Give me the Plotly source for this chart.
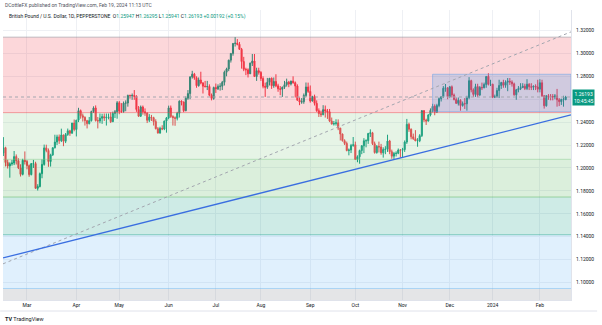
import plotly.graph_objects as go
import pandas as pd

# ---------------- text ----------------
publish_text = "DCottleFX published on TradingView.com, Feb 19, 2024 11:13 UTC"
symbol_text = "British Pound / U.S. Dollar, 1D, PEPPERSTONE"
ohlc_labels = ["O", "H", "L", "C"]
ohlc_values = ["1.25947", "1.26295", "1.25941", "1.26193"]
change_text = "+0.00192 (+0.15%)"
last_price_text = "1.26193"
countdown_text = "10:45:45"
last_price = 1.26193

# ---------------- dates (daily FX bars) ----------------
dates = pd.bdate_range("2023-02-14", "2024-02-19")
dates = dates[~dates.isin(pd.to_datetime(["2023-12-25", "2024-01-01"]))]

# ---------------- OHLC ----------------
opens = [
    # Feb 2023
    1.2130,1.2177,1.2047,1.2017,1.2036,1.2043,1.2099,1.2063,1.2001,1.1944,1.2067,
    # Mar
    1.2056,1.2020,1.1942,1.2038,1.2038,1.1822,1.1838,1.1950,1.2031,1.2175,1.2153,1.2056,1.2114,1.2176,1.2226,1.2271,1.2238,1.2288,1.2233,1.2292,1.2324,1.2303,1.2392,
    # Apr
    1.2336,1.2417,1.2500,1.2456,1.2442,1.2413,1.2387,1.2413,1.2492,1.2524,1.2414,1.2410,1.2434,1.2448,1.2437,1.2442,1.2445,1.2404,1.2476,1.2491,
    # May
    1.2569,1.2496,1.2493,1.2566,1.2567,1.2633,1.2630,1.2633,1.2625,1.2510,1.2452,1.2532,1.2491,1.2479,1.2416,1.2444,1.2439,1.2405,1.2343,1.2305,1.2346,1.2340,1.2409,
    # Jun
    1.2437,1.2524,1.2449,1.2439,1.2433,1.2478,1.2583,1.2575,1.2500,1.2609,1.2649,1.2794,1.2819,1.2788,1.2718,1.2768,1.2741,1.2714,1.2709,1.2711,1.2635,1.2607,
    # Jul
    1.2702,1.2691,1.2712,1.2714,1.2748,1.2836,1.2864,1.2941,1.3000,1.3087,1.3089,1.3080,1.3036,1.2929,1.2861,1.2857,1.2822,1.2915,1.2934,1.2798,1.2849,
    # Aug
    1.2834,1.2781,1.2713,1.2705,1.2748,1.2783,1.2718,1.2755,1.2717,1.2691,1.2687,1.2705,1.2727,1.2749,1.2733,1.2758,1.2744,1.2715,1.2591,1.2575,1.2578,1.2633,1.2707,
    # Sep
    1.2668,1.2584,1.2623,1.2564,1.2500,1.2474,1.2465,1.2509,1.2497,1.2490,1.2409,1.2383,1.2388,1.2394,1.2348,1.2296,1.2238,1.2214,1.2152,1.2157,1.2196,
    # Oct
    1.2202,1.2074,1.2098,1.2152,1.2193,1.2237,1.2238,1.2301,1.2307,1.2212,1.2134,1.2188,1.2183,1.2132,1.2161,1.2164,1.2235,1.2142,1.2103,1.2126,1.2128,1.2156,
    # Nov
    1.2155,1.2160,1.2226,1.2381,1.2338,1.2272,1.2255,1.2236,1.2238,1.2282,1.2500,1.2419,1.2409,1.2462,1.2502,1.2538,1.2487,1.2545,1.2605,1.2622,1.2696,1.2699,
    # Dec
    1.2623,1.2708,1.2637,1.2597,1.2564,1.2590,1.2545,1.2562,1.2560,1.2615,1.2762,1.2682,1.2642,1.2710,1.2636,1.2703,1.2700,1.2729,1.2799,1.2730,
    # Jan 2024
    1.2731,1.2618,1.2622,1.2676,1.2720,1.2746,1.2722,1.2749,1.2757,1.2750,1.2734,1.2639,1.2682,1.2692,1.2701,1.2714,1.2694,1.2731,1.2709,1.2705,1.2713,1.2707,
    # Feb 2024
    1.2688,1.2744,1.2630,1.2543,1.2630,1.2625,1.2624,1.2620,1.2628,1.2595,1.2579,1.2598,1.25947,
]
highs = [
    1.2269,1.2185,1.2072,1.2049,1.2070,1.2148,1.2118,1.2085,1.2032,1.2080,1.2144,
    1.2069,1.2030,1.2040,1.2070,1.2054,1.1858,1.1960,1.2075,1.2204,1.2203,1.2170,1.2124,1.2180,1.2290,1.2290,1.2292,1.2343,1.2290,1.2305,1.2344,1.2333,1.2393,1.2423,
    1.2420,1.2525,1.2510,1.2475,1.2450,1.2420,1.2445,1.2500,1.2538,1.2546,1.2445,1.2475,1.2473,1.2475,1.2475,1.2475,1.2485,1.2492,1.2506,1.2584,
    1.2584,1.2566,1.2580,1.2590,1.2640,1.2640,1.2650,1.2680,1.2635,1.2540,1.2545,1.2545,1.2520,1.2485,1.2470,1.2463,1.2447,1.2425,1.2357,1.2360,1.2373,1.2414,1.2445,
    1.2544,1.2545,1.2460,1.2450,1.2490,1.2590,1.2590,1.2580,1.2625,1.2680,1.2802,1.2848,1.2830,1.2800,1.2790,1.2840,1.2750,1.2760,1.2760,1.2730,1.2650,1.2710,
    1.2737,1.2730,1.2740,1.2760,1.2850,1.2875,1.2945,1.3000,1.3090,1.3142,1.3125,1.3100,1.3048,1.2970,1.2875,1.2870,1.2920,1.2995,1.2995,1.2875,1.2875,
    1.2845,1.2800,1.2745,1.2786,1.2785,1.2790,1.2790,1.2818,1.2735,1.2715,1.2710,1.2760,1.2780,1.2760,1.2762,1.2800,1.2755,1.2730,1.2616,1.2610,1.2650,1.2746,1.2745,
    1.2720,1.2630,1.2640,1.2590,1.2520,1.2500,1.2548,1.2545,1.2515,1.2515,1.2440,1.2410,1.2425,1.2424,1.2350,1.2300,1.2250,1.2230,1.2170,1.2210,1.2270,
    1.2230,1.2110,1.2160,1.2200,1.2260,1.2250,1.2306,1.2337,1.2315,1.2230,1.2200,1.2230,1.2210,1.2180,1.2190,1.2290,1.2245,1.2160,1.2140,1.2145,1.2170,1.2165,
    1.2175,1.2240,1.2428,1.2395,1.2345,1.2300,1.2330,1.2260,1.2295,1.2505,1.2505,1.2430,1.2470,1.2520,1.2560,1.2555,1.2560,1.2615,1.2625,1.2715,1.2733,1.2705,
    1.2716,1.2720,1.2650,1.2615,1.2615,1.2600,1.2580,1.2610,1.2630,1.2793,1.2770,1.2695,1.2735,1.2735,1.2715,1.2745,1.2745,1.2800,1.2827,1.2770,
    1.2735,1.2640,1.2700,1.2770,1.2752,1.2770,1.2765,1.2785,1.2785,1.2765,1.2745,1.2690,1.2715,1.2740,1.2740,1.2735,1.2775,1.2740,1.2740,1.2720,1.2730,1.2770,
    1.2775,1.2770,1.2635,1.2635,1.2645,1.2645,1.2645,1.2645,1.2690,1.2610,1.2605,1.2630,1.26295,
]
lows = [
    1.2104,1.2013,1.1995,1.1915,1.2020,1.2025,1.2030,1.1990,1.1925,1.1935,1.2030,
    1.1988,1.1923,1.1935,1.2000,1.1820,1.1803,1.1830,1.1910,1.2020,1.2137,1.2010,1.2012,1.2105,1.2170,1.2200,1.2210,1.2226,1.2190,1.2217,1.2280,1.2280,1.2300,1.2320,
    1.2275,1.2400,1.2430,1.2405,1.2370,1.2345,1.2380,1.2405,1.2480,1.2405,1.2345,1.2390,1.2385,1.2410,1.2370,1.2424,1.2392,1.2400,1.2436,1.2430,
    1.2469,1.2480,1.2482,1.2495,1.2535,1.2605,1.2595,1.2595,1.2490,1.2445,1.2445,1.2465,1.2455,1.2392,1.2400,1.2410,1.2370,1.2336,1.2300,1.2298,1.2330,1.2330,1.2308,
    1.2425,1.2437,1.2370,1.2368,1.2415,1.2440,1.2546,1.2487,1.2495,1.2595,1.2600,1.2780,1.2770,1.2700,1.2710,1.2730,1.2650,1.2705,1.2680,1.2625,1.2590,1.2595,
    1.2655,1.2680,1.2675,1.2680,1.2720,1.2800,1.2845,1.2920,1.2980,1.3060,1.3070,1.3030,1.2867,1.2845,1.2810,1.2790,1.2820,1.2890,1.2795,1.2760,1.2815,
    1.2760,1.2695,1.2620,1.2690,1.2720,1.2690,1.2700,1.2705,1.2665,1.2635,1.2620,1.2690,1.2710,1.2705,1.2720,1.2735,1.2615,1.2588,1.2548,1.2560,1.2560,1.2617,1.2655,
    1.2570,1.2580,1.2545,1.2490,1.2445,1.2445,1.2460,1.2440,1.2428,1.2400,1.2380,1.2370,1.2370,1.2330,1.2240,1.2230,1.2200,1.2145,1.2110,1.2130,1.2185,
    1.2070,1.2050,1.2037,1.2120,1.2130,1.2180,1.2210,1.2270,1.2200,1.2125,1.2125,1.2135,1.2115,1.2090,1.2120,1.2140,1.2120,1.2080,1.2070,1.2100,1.2120,1.2090,
    1.2095,1.2140,1.2210,1.2315,1.2250,1.2245,1.2235,1.2185,1.2225,1.2270,1.2400,1.2375,1.2405,1.2450,1.2485,1.2460,1.2480,1.2530,1.2580,1.2610,1.2665,1.2600,
    1.2610,1.2615,1.2590,1.2560,1.2545,1.2500,1.2535,1.2515,1.2500,1.2600,1.2660,1.2620,1.2620,1.2618,1.2630,1.2680,1.2695,1.2700,1.2720,1.2715,
    1.2610,1.2610,1.2615,1.2610,1.2690,1.2700,1.2700,1.2670,1.2725,1.2710,1.2630,1.2595,1.2660,1.2680,1.2700,1.2680,1.2680,1.2680,1.2680,1.2680,1.2680,1.2660,
    1.2660,1.2620,1.2518,1.2535,1.2595,1.2590,1.2590,1.2600,1.2535,1.2540,1.2550,1.2535,1.25941,
]
closes = [
    1.2177,1.2047,1.2017,1.2036,1.2043,1.2099,1.2063,1.2001,1.1944,1.2067,1.2056,
    1.2020,1.1942,1.2038,1.2038,1.1822,1.1838,1.1950,1.2031,1.2175,1.2153,1.2056,1.2114,1.2176,1.2226,1.2271,1.2238,1.2288,1.2233,1.2292,1.2324,1.2303,1.2392,1.2336,
    1.2417,1.2500,1.2456,1.2442,1.2413,1.2387,1.2413,1.2492,1.2524,1.2414,1.2410,1.2434,1.2448,1.2437,1.2442,1.2445,1.2404,1.2476,1.2491,1.2569,
    1.2496,1.2493,1.2566,1.2567,1.2633,1.2630,1.2633,1.2625,1.2510,1.2452,1.2532,1.2491,1.2479,1.2416,1.2444,1.2439,1.2405,1.2343,1.2305,1.2346,1.2340,1.2409,1.2437,
    1.2524,1.2449,1.2439,1.2433,1.2478,1.2583,1.2575,1.2500,1.2609,1.2649,1.2794,1.2819,1.2788,1.2718,1.2768,1.2741,1.2714,1.2709,1.2711,1.2635,1.2607,1.2702,
    1.2691,1.2712,1.2714,1.2748,1.2836,1.2864,1.2941,1.3000,1.3087,1.3089,1.3080,1.3036,1.2929,1.2861,1.2857,1.2822,1.2915,1.2934,1.2798,1.2849,1.2834,
    1.2781,1.2713,1.2705,1.2748,1.2783,1.2718,1.2755,1.2717,1.2691,1.2687,1.2705,1.2727,1.2749,1.2733,1.2758,1.2744,1.2715,1.2591,1.2575,1.2578,1.2633,1.2707,1.2668,
    1.2584,1.2623,1.2564,1.2500,1.2474,1.2465,1.2509,1.2497,1.2490,1.2409,1.2383,1.2388,1.2394,1.2348,1.2296,1.2238,1.2214,1.2152,1.2157,1.2196,1.2202,
    1.2074,1.2098,1.2152,1.2193,1.2237,1.2238,1.2301,1.2307,1.2212,1.2134,1.2188,1.2183,1.2132,1.2161,1.2164,1.2235,1.2142,1.2103,1.2126,1.2128,1.2156,1.2155,
    1.2160,1.2226,1.2381,1.2338,1.2272,1.2255,1.2236,1.2238,1.2282,1.2500,1.2419,1.2409,1.2462,1.2502,1.2538,1.2487,1.2545,1.2605,1.2622,1.2696,1.2699,1.2623,
    1.2708,1.2637,1.2597,1.2564,1.2590,1.2545,1.2562,1.2560,1.2615,1.2762,1.2682,1.2642,1.2710,1.2636,1.2703,1.2700,1.2729,1.2799,1.2730,1.2731,
    1.2618,1.2622,1.2676,1.2720,1.2746,1.2722,1.2749,1.2757,1.2750,1.2734,1.2639,1.2682,1.2692,1.2701,1.2714,1.2694,1.2731,1.2709,1.2705,1.2713,1.2707,1.2688,
    1.2744,1.2630,1.2543,1.2630,1.2625,1.2624,1.2620,1.2628,1.2595,1.2579,1.2598,1.2600,1.26193,
]
assert len(dates) == len(opens) == len(highs) == len(lows) == len(closes)

# ---------------- axis ticks ----------------
tick_months = ["2023-03", "2023-04", "2023-05", "2023-06", "2023-07", "2023-08",
               "2023-09", "2023-10", "2023-11", "2023-12", "2024-01", "2024-02"]
tick_labels = ["Mar", "Apr", "May", "Jun", "Jul", "Aug", "Sep", "Oct", "Nov", "Dec", "2024", "Feb"]
price_ticks = [1.10, 1.12, 1.14, 1.16, 1.18, 1.20, 1.22, 1.24, 1.26, 1.28, 1.30, 1.32]
# labels shown on the price scale (1.26000 is hidden behind the last-price tag)
price_tick_labels = ["1.10000", "1.12000", "1.14000", "1.16000", "1.18000", "1.20000",
                     "1.22000", "1.24000", "", "1.28000", "1.30000", "1.32000"]

# ---------------- drawings ----------------
fib_high = 1.3142   # Jul 2023 high
fib_low = 1.0350    # Sep 2022 low
fib_levels = [0, 0.236, 0.382, 0.5, 0.618, 0.786, 1.0]
fib_colors = ["120,123,134", "242,54,69", "129,199,132", "76,175,80", "8,153,129", "100,181,246", "120,123,134"]

blue_trend_dates = ["2023-02-14", "2024-02-19"]
blue_trend_prices = [1.1215, 1.2451]
dotted_trend_dates = ["2023-02-14", "2024-02-19"]
dotted_trend_prices = [1.1164, 1.3169]

range_box_start = "2023-11-21"
range_box_prices = [1.2492, 1.2818]

# ---------------- build ----------------
x = list(range(len(dates)))
date_keys = list(dates.strftime("%Y-%m-%d"))
month_keys = list(dates.strftime("%Y-%m"))
tick_idx = [month_keys.index(m) for m in tick_months]
x_range = [-0.18, 264.5]
y_range = [1.0847, 1.3379]

fig = go.Figure()
fig.add_trace(go.Candlestick(
    x=x, open=opens, high=highs, low=lows, close=closes,
    increasing=dict(line=dict(color="#089981", width=1), fillcolor="#089981"),
    decreasing=dict(line=dict(color="#f23645", width=1), fillcolor="#f23645"),
    whiskerwidth=0, showlegend=False, hoverinfo="skip",
))

shapes = []
fib_prices = [fib_high - lv * (fib_high - fib_low) for lv in fib_levels]
for i in range(len(fib_levels) - 1):
    shapes.append(dict(type="rect", xref="paper", yref="y", x0=0, x1=1,
                       y0=fib_prices[i + 1], y1=fib_prices[i],
                       fillcolor=f"rgba({fib_colors[i + 1]},0.2)",
                       line=dict(width=0), layer="above"))
for p, c in zip(fib_prices, fib_colors):
    shapes.append(dict(type="line", xref="paper", yref="y", x0=0, x1=1, y0=p, y1=p,
                       line=dict(color=f"rgba({c},0.45)", width=1), layer="above"))

# range rectangle
bx0 = date_keys.index(range_box_start)
shapes.append(dict(type="rect", xref="x", yref="y", x0=bx0, x1=x_range[1],
                   y0=range_box_prices[0], y1=range_box_prices[1],
                   fillcolor="rgba(33,150,243,0.2)",
                   line=dict(color="rgba(100,160,235,0.5)", width=1), layer="above"))

def extended(dts, prs):
    i1, i2 = date_keys.index(dts[0]), date_keys.index(dts[1])
    s = (prs[1] - prs[0]) / (i2 - i1)
    return (x_range[0], prs[0] + s * (x_range[0] - i1),
            x_range[1], prs[0] + s * (x_range[1] - i1))

xa, ya, xb, yb = extended(dotted_trend_dates, dotted_trend_prices)
shapes.append(dict(type="line", xref="x", yref="y", x0=xa, y0=ya, x1=xb, y1=yb,
                   line=dict(color="#a3a6af", width=1, dash="dot"), layer="above"))
xa, ya, xb, yb = extended(blue_trend_dates, blue_trend_prices)
shapes.append(dict(type="line", xref="x", yref="y", x0=xa, y0=ya, x1=xb, y1=yb,
                   line=dict(color="#3a6ee0", width=1.3), layer="above"))

# last price dotted line
shapes.append(dict(type="line", xref="paper", yref="y", x0=0, x1=1, y0=last_price, y1=last_price,
                   line=dict(color="#a3a6af", width=1, dash="dot"), layer="above"))
# time axis bottom border
shapes.append(dict(type="line", xref="paper", yref="paper", x0=-0.005, x1=1.046,
                   y0=-0.038, y1=-0.038, line=dict(color="#e0e3eb", width=1)))

font_family = "Roboto, Liberation Sans, sans-serif"
ohlc_html = " ".join(f"{lab}<span style='color:#089981'>{val}</span>"
                     for lab, val in zip(ohlc_labels, ohlc_values))
annotations = [
    dict(xref="paper", yref="paper", x=0, y=1.0172, xanchor="left", yanchor="middle",
         text=publish_text, showarrow=False, font=dict(size=5, color="#50535e", family=font_family)),
    dict(xref="paper", yref="paper", x=0, y=0.979, xanchor="left", yanchor="middle", xshift=4,
         text=f"{symbol_text}  {ohlc_html} <span style='color:#089981'>{change_text}</span>",
         showarrow=False, font=dict(size=5, color="#131722", family=font_family)),
    dict(xref="paper", yref="y", x=1, y=last_price, xanchor="left", yanchor="middle", xshift=1,
         text=f"{last_price_text}<br>{countdown_text}", showarrow=False, align="center",
         bgcolor="#089981", borderpad=1,
         font=dict(size=5, color="#ffffff", family=font_family)),
    dict(xref="paper", yref="paper", x=0, y=-0.0655, xanchor="left", yanchor="middle",
         text="<b>TV</b> TradingView", showarrow=False,
         font=dict(size=5.5, color="#131722", family=font_family)),
]

fig.update_layout(
    width=602, height=325,
    margin=dict(l=3, r=31, t=10, b=25),
    paper_bgcolor="white", plot_bgcolor="white",
    shapes=shapes, annotations=annotations,
    showlegend=False,
    xaxis=dict(range=x_range, rangeslider=dict(visible=False), tickmode="array",
               tickvals=tick_idx, ticktext=tick_labels, showgrid=True, gridcolor="#eef0f4",
               gridwidth=1, zeroline=False, showline=True, linecolor="#e0e3eb", ticks="",
               tickfont=dict(size=5, color="#131722", family=font_family)),
    yaxis=dict(range=y_range, side="right", tickmode="array", tickvals=price_ticks,
               ticktext=price_tick_labels, showgrid=True, gridcolor="#eef0f4", gridwidth=1,
               zeroline=False, showline=True, linecolor="#e0e3eb", ticks="",
               ticklabelstandoff=3,
               tickfont=dict(size=5, color="#131722", family=font_family)),
)

fig.write_html("out.html")
